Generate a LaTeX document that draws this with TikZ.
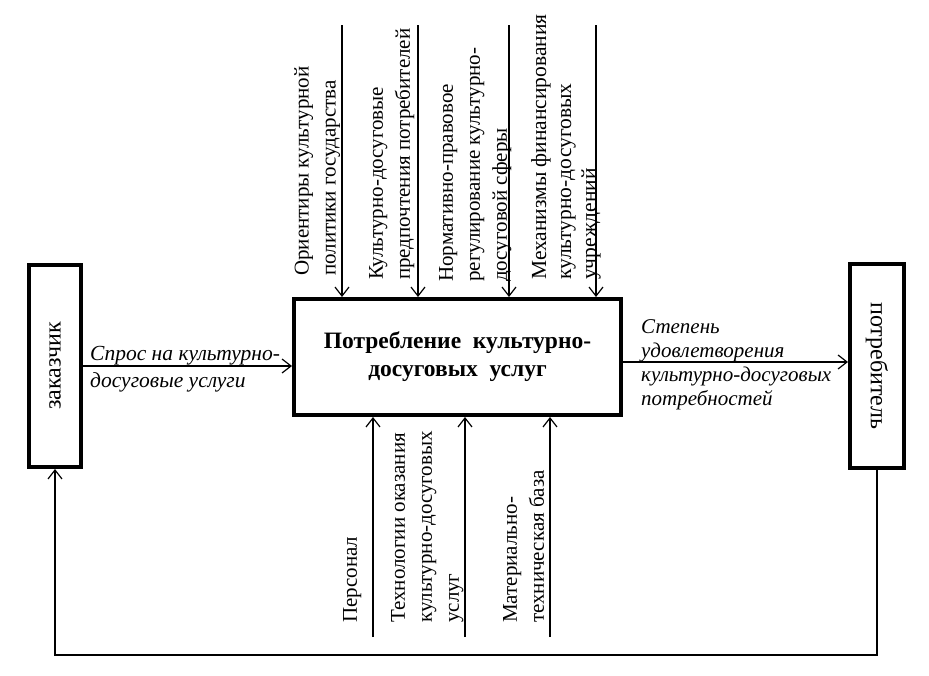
\documentclass[tikz,border=0pt]{standalone}
\usepackage{fontspec}
\setmainfont{Liberation Serif}
\usetikzlibrary{arrows.meta}
\begin{document}
\begin{tikzpicture}[x=1pt,y=-1pt,
  box/.style={draw=black,line width=4pt,fill=white,inner sep=0pt},
  conn/.style={draw=black,line width=1.4pt,-{Straight Barb[length=9pt,width=14pt,line width=1.2pt]}},
  lbl/.style={inner sep=0pt,align=left,font=\fontsize{21}{27}\selectfont},
  ilbl/.style={inner sep=0pt,align=left,font=\fontsize{21.5}{27}\selectfont\itshape}]
\useasboundingbox (0,0) rectangle (929,675);
\fill[white] (0,0) rectangle (929,675);
% boxes
\node[box,minimum width=52pt,minimum height=202pt] (zak) at (55,366) {};
\node[rotate=90,font=\fontsize{24}{28}\selectfont] (zakt) at (zak.center) {заказчик};
\node[box,minimum width=54pt,minimum height=204pt] (potr) at (877,366) {};
\node[rotate=-90,font=\fontsize{24}{28}\selectfont] (potrt) at (potr.center) {потребитель};
\node[box,minimum width=327pt,minimum height=116pt,align=center,font=\fontsize{23.5}{28}\selectfont\bfseries] (main) at (457.5,357) {Потребление\hspace{0.5em}культурно-\\досуговых\hspace{0.5em}услуг};
% input / output
\draw[conn] (zak.east) -- (zak.east -| main.west);
\node[ilbl,anchor=north west] (inl) at (90,346) {Спрос на культурно-\\досуговые услуги};
\draw[conn] ([yshift=-5pt]main.east) coordinate (o1) -- (o1 -| potr.west);
\node[ilbl,anchor=north west,font=\fontsize{21}{24}\selectfont\itshape] (outl) at (641,319) {Степень\\удовлетворения\\культурно-досуговых\\потребностей};
% top controls
\coordinate (t1) at (342,25);
\coordinate (t2) at (418,25);
\coordinate (t3) at (509,25);
\coordinate (t4) at (596,25);
\foreach \c in {t1,t2,t3,t4} \draw[conn] (\c) -- (\c |- main.north);
\node[lbl,rotate=90,anchor=north west] (c1) at (294,276) {Ориентиры культурной\\политики государства};
\node[lbl,rotate=90,anchor=north west] (c2) at (369,280) {Культурно-досуговые\\предпочтения потребителей};
\node[lbl,rotate=90,anchor=north west] (c3) at (439,282) {Нормативно-правовое\\регулирование культурно-\\досуговой сферы};
\node[lbl,rotate=90,anchor=north west,font=\fontsize{21.5}{25}\selectfont] (c4) at (531,280) {Механизмы финансирования\\культурно-досуговых\\учреждений};
% bottom mechanisms
\coordinate (b1) at (373,637);
\coordinate (b2) at (465,637);
\coordinate (b3) at (550,637);
\foreach \c in {b1,b2,b3} \draw[conn] (\c) -- (\c |- main.south);
\node[lbl,rotate=90,anchor=north west] (m1) at (343,623) {Персонал};
\node[lbl,rotate=90,anchor=north west] (m2) at (391,623) {Технологии оказания\\культурно-досуговых\\услуг};
\node[lbl,rotate=90,anchor=north west] (m3) at (503,623) {Материально-\\техническая база};
% feedback
\coordinate (fb) at (0,655);
\draw[conn] (potr.south) -- (potr.south |- fb) -- (zak.south |- fb) -- (zak.south);
\end{tikzpicture}
\end{document}
